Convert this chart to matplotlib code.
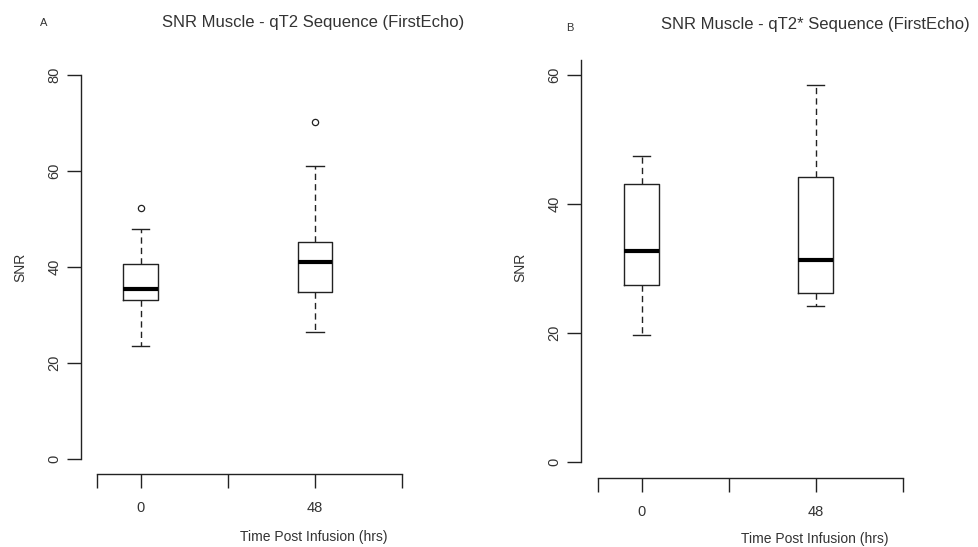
import matplotlib
matplotlib.use('Agg')
import matplotlib.pyplot as plt

plt.rcParams['font.family'] = ['Liberation Sans', 'DejaVu Sans']

# Data
timepoints = ['0', '48']
positions = [1, 2]

# Panel A - qT2 sequence
a_whislo = [23.5, 26.5]
a_q1 = [33.2, 34.8]
a_med = [35.5, 41.0]
a_q3 = [40.6, 45.3]
a_whishi = [48.0, 61.0]
a_fliers = [[52.3], [70.3]]

# Panel B - qT2* sequence
b_whislo = [19.7, 24.2]
b_q1 = [27.4, 26.3]
b_med = [32.8, 31.3]
b_q3 = [43.1, 44.2]
b_whishi = [47.5, 58.5]
b_fliers = [[], []]

W, H = 979, 547
ink = '#222222'
txt = '#333333'


def px_axes(fig, left, right, bottom, top):
	return fig.add_axes([left / W, (H - bottom) / H, (right - left) / W, (bottom - top) / H])


def make_stats(whislo, q1, med, q3, whishi, fliers):
	stats = []
	for i in range(len(med)):
		stats.append({'whislo': whislo[i], 'q1': q1[i], 'med': med[i], 'q3': q3[i],
					  'whishi': whishi[i], 'fliers': fliers[i]})
	return stats


def draw_panel(ax, stats, ylim, ytop, yticks, title, letter, title_xy, letter_xy, snr_x, xlab_xy):
	ax.bxp(stats, positions=positions, widths=0.2, capwidths=0.1, showfliers=True,
		   boxprops=dict(color=ink, linewidth=1.0),
		   medianprops=dict(color='black', linewidth=3.0, solid_capstyle='butt'),
		   whiskerprops=dict(color=ink, linewidth=1.0, linestyle=(0, (4.5, 3))),
		   capprops=dict(color=ink, linewidth=1.0),
		   flierprops=dict(marker='o', markersize=4.5, markerfacecolor='none',
						   markeredgecolor=ink, markeredgewidth=0.9))
	ax.set_ylim(ylim)
	ax.set_xlim(ax.get_xlim())
	for s in ['top', 'right']:
		ax.spines[s].set_visible(False)
	ax.spines['left'].set_bounds(0, ytop)
	ax.spines['bottom'].set_bounds(0.75, 2.5)
	for s in ['left', 'bottom']:
		ax.spines[s].set_color(ink)
		ax.spines[s].set_linewidth(1.0)
	ax.set_xticks([0.75, 1, 1.5, 2, 2.5])
	ax.set_xticklabels(['', timepoints[0], '', timepoints[1], ''])
	ax.set_yticks(yticks)
	ax.set_yticklabels([str(t) for t in yticks], rotation=90, va='center')
	ax.tick_params(axis='both', length=10, width=1.0, color=ink, labelcolor=txt, labelsize=10.5)
	ax.tick_params(axis='x', pad=9)
	ax.tick_params(axis='y', pad=4)
	fig = ax.figure
	fig.text(title_xy[0] / W, 1 - title_xy[1] / H, title, ha='center', va='center',
			 fontsize=12, color=txt)
	fig.text(letter_xy[0] / W, 1 - letter_xy[1] / H, letter, ha='center', va='center',
			 fontsize=8, color=txt)
	fig.text(snr_x / W, 1 - 267 / H, 'SNR', rotation=90, ha='center', va='center',
			 fontsize=10, color=txt)
	fig.text(xlab_xy[0] / W, 1 - xlab_xy[1] / H, 'Time Post Infusion (hrs)', ha='center',
			 va='center', fontsize=10, color=txt)


fig = plt.figure(figsize=(W / 100, H / 100), dpi=100)

# Panel A: y 0 -> 459.3px, 80 -> 75px ; x 1 -> 140.7px, 174.3 px per unit
axA = px_axes(fig, 81, 140.7 + 1.55 * 174.3, 474.3, 459.3 - 83.2 * 4.8)
axA.set_xlim(1 - (140.7 - 81) / 174.3, 2.55)
statsA = make_stats(a_whislo, a_q1, a_med, a_q3, a_whishi, a_fliers)
draw_panel(axA, statsA, (-3.2, 83.2), 80, [0, 20, 40, 60, 80],
		   'SNR Muscle - qT2 Sequence (FirstEcho)', 'A', (313, 23), (44, 23), 20, (314, 537))

# Panel B: y 0 -> 462.3px, 6.455 px per unit ; x 1 -> 641.7px, 174 px per unit
axB = px_axes(fig, 581, 641.7 + 1.55 * 174, 478.3, 462.3 - 64.48 * 6.455)
axB.set_xlim(1 - (641.7 - 581) / 174, 2.55)
statsB = make_stats(b_whislo, b_q1, b_med, b_q3, b_whishi, b_fliers)
draw_panel(axB, statsB, (-2.48, 64.48), 62.3, [0, 20, 40, 60],
		   'SNR Muscle - qT2* Sequence (FirstEcho)', 'B', (815, 25), (570, 28), 520, (815, 539))

fig.savefig('out.png', dpi=100)
